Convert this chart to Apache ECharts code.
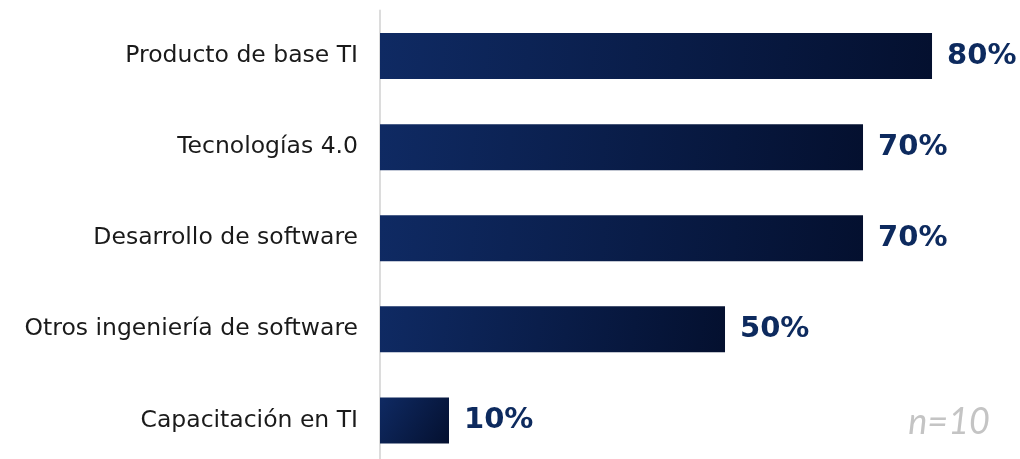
<!DOCTYPE html>
<html>
<head>
<meta charset="utf-8">
<style>
  html, body { margin: 0; padding: 0; background: #ffffff; overflow: hidden; }
  /* The plot runs slightly past the bottom edge of the window */
  #chart { width: 1020px; height: 466px; }
</style>
<script src="https://cdn.jsdelivr.net/npm/echarts@6/dist/echarts.min.js"></script>
</head>
<body>
<div id="chart"></div>
<script>
// Areas of specialisation, top to bottom
const categories = [
  'Producto de base TI',
  'Tecnologías 4.0',
  'Desarrollo de software',
  'Otros ingeniería de software',
  'Capacitación en TI'
];
// Share of respondents (%)
const shares = [80, 70, 70, 50, 10];
const sampleNote = 'n=10';

const chart = echarts.init(document.getElementById('chart'));

const barFill = new echarts.graphic.LinearGradient(0, 0, 1, 1, [
  { offset: 0, color: '#0f2a63' },
  { offset: 1, color: '#04102f' }
]);

chart.setOption({
  animation: false,
  grid: { left: 380, top: 10.5, right: 0, bottom: 0, containLabel: false },
  xAxis: {
    type: 'value', min: 0, max: 92.75,
    show: false
  },
  yAxis: {
    type: 'category',
    inverse: true,
    data: categories,
    axisLine: { show: true, lineStyle: { color: '#dcdcdc', width: 2 } },
    axisTick: { show: false },
    axisLabel: {
      margin: 22,
      color: '#1a1a1a',
      fontFamily: '"DejaVu Sans", sans-serif',
      fontSize: 23.5
    }
  },
  series: [{
    type: 'bar',
    data: shares,
    barWidth: 46,
    itemStyle: { color: barFill },
    label: {
      show: true,
      position: 'right',
      distance: 15,
      formatter: p => p.value + '%',
      color: '#0d2a5e',
      fontFamily: '"DejaVu Sans", sans-serif',
      fontWeight: 'bold',
      fontSize: 29
    }
  }],
  graphic: [{
    type: 'text',
    right: 30,
    top: 404,
    style: {
      text: sampleNote,
      fill: '#c4c4c4',
      font: 'italic 36px Lato, "Open Sans", sans-serif'
    }
  }]
});
</script>
</body>
</html>
